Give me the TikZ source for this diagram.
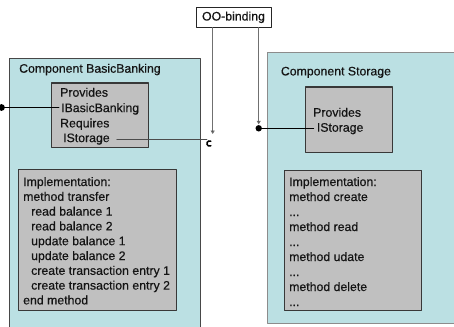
\documentclass[tikz,border=0pt]{standalone}
\usepackage{fontspec}
\setmainfont{Liberation Sans}
\newfontfamily\slidefont{Liberation Sans}[FakeBold=0.45]
\usetikzlibrary{arrows.meta}
\definecolor{compfill}{RGB}{187,224,227}
\definecolor{partfill}{RGB}{192,192,192}
\definecolor{wiregray}{RGB}{112,112,112}
\newcommand{\elided}{...}
\tikzset{
  compbox/.style={draw=black!72,fill=compfill,line width=0.9pt,inner sep=0pt,anchor=north west},
  partbox/.style={draw=black!78,fill=partfill,line width=1.2pt,inner sep=0pt,anchor=north west},
  txt/.style={inner sep=0pt,anchor=base west,text=black!92,font=\slidefont\fontsize{12.3}{14.8}\selectfont},
  wire/.style={line width=0.9pt},
  bindline/.style={draw=wiregray,line width=0.9pt,-{Triangle[width=4pt,length=3.5pt,fill=black]}}
}
\begin{document}
\begin{tikzpicture}[line cap=round,line join=round,x=1pt,y=-1pt]
	\useasboundingbox (0,0) rectangle (454,326);
	\clip (0,0) rectangle (454,326);
	% the two components
	\node[compbox,minimum width=191,minimum height=282] (bank) at (9,58) {};
	\node[compbox,draw=black!45,minimum width=200,minimum height=270] (store) at (267,52.5) {};
	\node[txt] (banktitle) at (19,72.7) {Component BasicBanking};
	\node[txt] (storetitle) at (280.7,75.4) {Component Storage};
	% interface parts
	\node[partbox,minimum width=97,minimum height=64] (bankif) at (50.5,82.5) {};
	\node[partbox,minimum width=87,minimum height=65] (storeif) at (304.5,86.5) {};
	\node[txt] (bprov) at (60,96.7) {Provides};
	\node[txt] (ibb) at (61,112.1) {IBasicBanking};
	\node[txt] (breq) at (60,127.4) {Requires};
	\node[txt] (ist) at (63,142.1) {IStorage};
	\node[txt] (sprov) at (313,116.7) {Provides};
	\node[txt] (sist) at (316.7,131.7) {IStorage};
	% implementations
	\node[partbox,minimum width=158,minimum height=140.5] (bankimpl) at (17.5,169) {};
	\node[partbox,minimum width=137.5,minimum height=140] (storeimpl) at (283.5,169.5) {};
	\foreach \x/\t [count=\i] in {23/Implementation:,23/method transfer,31/read balance 1,31/read balance 2,31/update balance 1,31/update balance 2,31/create transaction entry 1,31/create transaction entry 2,23/end method}
		\node[txt] (bline\i) at (\x,{186+14.8*(\i-1)}) {\t};
	\foreach \t [count=\i] in {Implementation:,method create,\elided,method read,\elided,method udate,\elided,method delete,\elided}
		\node[txt] (sline\i) at (289,{186+15*(\i-1)}) {\t};
	% binding
	\node[draw=black!85,fill=white,line width=0.9pt,inner sep=0pt,minimum width=75,minimum height=19.5,text=black!92,font=\slidefont\fontsize{12.3}{14.8}\selectfont] (binding) at (233.5,17.3) {OO-binding};
	\coordinate (bankport) at (1.5,107.5);
	\coordinate (socket) at (209.5,139);
	\coordinate (socketend) at (212.7,134);
	\coordinate (storeport) at (258.7,128.3);
	\fill (bankport) circle (3.4);
	\draw[wire] (bankport) -- ([xshift=-2pt]bankport -| ibb.west);
	\draw[wire,draw=black!70] ([xshift=7pt]ist.east |- socket) -- ([xshift=-2.6pt]socket);
	\draw[line width=1.5pt] ([shift={(60:2.6)}]socket) arc (-60:-300:2.6);
	\fill (storeport) circle (3.2);
	\draw[wire] (storeport) -- ([xshift=-3pt]storeport -| sist.west);
	\draw[bindline] (binding.south -| socketend) -- (socketend);
	\draw[bindline,shorten >=4pt] (binding.south -| storeport) -- (storeport);
\end{tikzpicture}
\end{document}
